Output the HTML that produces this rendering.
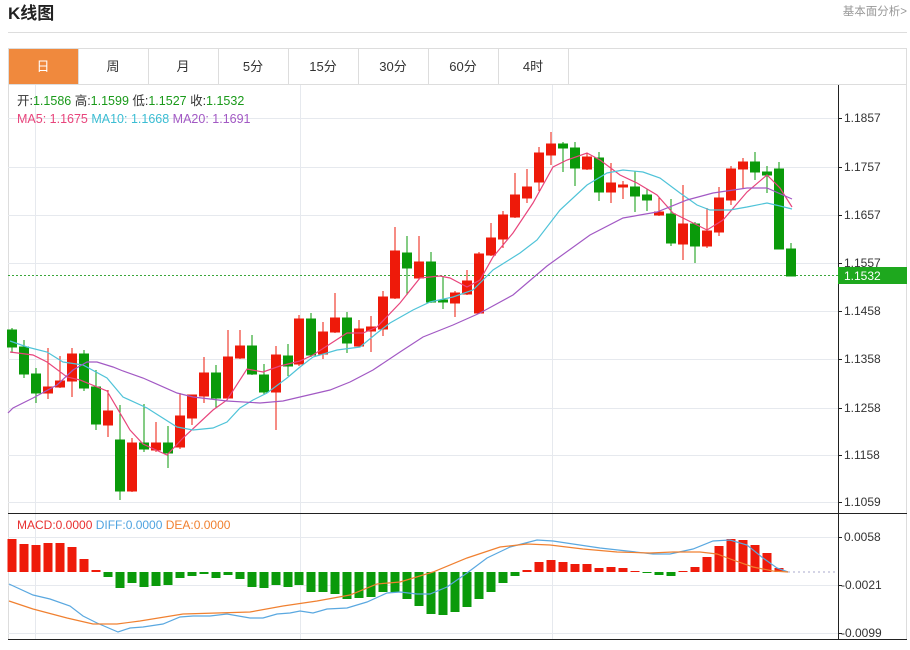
<!DOCTYPE html>
<html><head><meta charset="utf-8"><style>
body{margin:0;background:#fff;width:910px;height:645px;overflow:hidden;font-family:"Liberation Sans","Noto Sans CJK SC",sans-serif;}
</style></head><body>
<svg width="910" height="645" xmlns="http://www.w3.org/2000/svg" font-family="Liberation Sans, Noto Sans CJK SC, sans-serif">
<text x="8" y="19" font-size="17" font-weight="bold" fill="#222">K线图</text>
<text x="907" y="15" font-size="11.5" fill="#999" text-anchor="end">基本面分析&gt;</text>
<line x1="8" y1="32.5" x2="907" y2="32.5" stroke="#ddd"/>
<rect x="8.5" y="48.5" width="898" height="36" fill="#fff" stroke="#ddd"/>
<rect x="9" y="49" width="69" height="35" fill="#f0893d"/>
<g stroke="#ddd"><line x1="78.5" y1="49" x2="78.5" y2="84"/><line x1="148.5" y1="49" x2="148.5" y2="84"/><line x1="218.5" y1="49" x2="218.5" y2="84"/><line x1="288.5" y1="49" x2="288.5" y2="84"/><line x1="358.5" y1="49" x2="358.5" y2="84"/><line x1="428.5" y1="49" x2="428.5" y2="84"/><line x1="498.5" y1="49" x2="498.5" y2="84"/><line x1="568.5" y1="49" x2="568.5" y2="84"/></g>
<g font-size="13" text-anchor="middle" fill="#333"><text x="43" y="71" fill="#fff">日</text><text x="113" y="71">周</text><text x="183" y="71">月</text><text x="253" y="71">5分</text><text x="323" y="71">15分</text><text x="393" y="71">30分</text><text x="463" y="71">60分</text><text x="533" y="71">4时</text></g>
<line x1="8.5" y1="84" x2="8.5" y2="640" stroke="#ddd"/>
<line x1="906.5" y1="84" x2="906.5" y2="640" stroke="#ddd"/>
<g stroke="#e6e9ee">
<line x1="8" y1="118.5" x2="838" y2="118.5"/><line x1="8" y1="167.5" x2="838" y2="167.5"/><line x1="8" y1="215.5" x2="838" y2="215.5"/><line x1="8" y1="263.5" x2="838" y2="263.5"/><line x1="8" y1="311.5" x2="838" y2="311.5"/><line x1="8" y1="359.5" x2="838" y2="359.5"/><line x1="8" y1="408.5" x2="838" y2="408.5"/><line x1="8" y1="455.5" x2="838" y2="455.5"/><line x1="8" y1="502.5" x2="838" y2="502.5"/>
<line x1="8" y1="537.5" x2="838" y2="537.5"/><line x1="8" y1="585.5" x2="838" y2="585.5"/><line x1="8" y1="633.5" x2="838" y2="633.5"/>
<line x1="35.5" y1="85" x2="35.5" y2="640"/><line x1="300.5" y1="85" x2="300.5" y2="640"/><line x1="552.5" y1="85" x2="552.5" y2="640"/>
</g>
<line x1="838.5" y1="85" x2="838.5" y2="640" stroke="#222"/>
<line x1="8" y1="513.5" x2="907" y2="513.5" stroke="#222"/>
<line x1="8" y1="639.5" x2="907" y2="639.5" stroke="#222"/>
<g stroke="#222"><line x1="838" y1="118.5" x2="842" y2="118.5"/><line x1="838" y1="167.5" x2="842" y2="167.5"/><line x1="838" y1="215.5" x2="842" y2="215.5"/><line x1="838" y1="263.5" x2="842" y2="263.5"/><line x1="838" y1="311.5" x2="842" y2="311.5"/><line x1="838" y1="359.5" x2="842" y2="359.5"/><line x1="838" y1="408.5" x2="842" y2="408.5"/><line x1="838" y1="455.5" x2="842" y2="455.5"/><line x1="838" y1="502.5" x2="842" y2="502.5"/><line x1="838" y1="537.5" x2="842" y2="537.5"/><line x1="838" y1="585.5" x2="842" y2="585.5"/><line x1="838" y1="633.5" x2="842" y2="633.5"/></g>
<g font-size="12" fill="#333"><text x="844" y="122">1.1857</text><text x="844" y="171">1.1757</text><text x="844" y="219">1.1657</text><text x="844" y="267">1.1557</text><text x="844" y="315">1.1458</text><text x="844" y="363">1.1358</text><text x="844" y="412">1.1258</text><text x="844" y="459">1.1158</text><text x="844" y="506">1.1059</text>
<text x="844" y="541">0.0058</text><text x="841" y="589">-0.0021</text><text x="841" y="637">-0.0099</text></g>
<line x1="8" y1="275.5" x2="838" y2="275.5" stroke="#3aa63a" stroke-dasharray="2,2"/>
<rect x="838" y="267" width="69" height="17" fill="#1ea81e"/>
<text x="844" y="280" font-size="12" fill="#fff">1.1532</text>
<g font-size="12.5"><text x="17" y="105" fill="#333">开:<tspan fill="#1a9a1a">1.1586</tspan>  高:<tspan fill="#1a9a1a">1.1599</tspan>  低:<tspan fill="#1a9a1a">1.1527</tspan>  收:<tspan fill="#1a9a1a">1.1532</tspan></text>
<text x="17" y="123" fill="#e8457c">MA5: 1.1675 <tspan fill="#3bbdd3">  MA10: 1.1668</tspan><tspan fill="#a259c4">  MA20: 1.1691</tspan></text>
<text x="17" y="529" fill="#e83030" font-size="12">MACD:0.0000 <tspan fill="#4fa3e0">  DIFF:0.0000</tspan><tspan fill="#f08030">  DEA:0.0000</tspan></text></g>
<g stroke="#0a9a0a" fill="#0a9a0a">
<line x1="12" y1="328" x2="12" y2="353"/><rect x="7.5" y="330" width="9" height="17"/>
<line x1="24" y1="340" x2="24" y2="378"/><rect x="19.5" y="347" width="9" height="27"/>
<line x1="36" y1="368" x2="36" y2="403"/><rect x="31.5" y="374" width="9" height="19"/>
<line x1="84" y1="350" x2="84" y2="391"/><rect x="79.5" y="354" width="9" height="34"/>
<line x1="96" y1="370" x2="96" y2="430"/><rect x="91.5" y="387" width="9" height="37"/>
<line x1="120" y1="405" x2="120" y2="500"/><rect x="115.5" y="440" width="9" height="51"/>
<line x1="144" y1="404" x2="144" y2="452"/><rect x="139.5" y="443" width="9" height="6"/>
<line x1="168" y1="426" x2="168" y2="468"/><rect x="163.5" y="443" width="9" height="10"/>
<line x1="216" y1="365" x2="216" y2="408"/><rect x="211.5" y="373" width="9" height="25"/>
<line x1="252" y1="335" x2="252" y2="375"/><rect x="247.5" y="346" width="9" height="28"/>
<line x1="264" y1="364" x2="264" y2="394"/><rect x="259.5" y="375" width="9" height="17"/>
<line x1="288" y1="344" x2="288" y2="376"/><rect x="283.5" y="356" width="9" height="10"/>
<line x1="311" y1="313" x2="311" y2="357"/><rect x="306.5" y="319" width="9" height="36"/>
<line x1="347" y1="312" x2="347" y2="353"/><rect x="342.5" y="318" width="9" height="25"/>
<line x1="407" y1="236" x2="407" y2="295"/><rect x="402.5" y="253" width="9" height="15"/>
<line x1="431" y1="252" x2="431" y2="303"/><rect x="426.5" y="262" width="9" height="40"/>
<line x1="443" y1="277" x2="443" y2="309"/><rect x="438.5" y="300" width="9" height="2"/>
<line x1="563" y1="142" x2="563" y2="172"/><rect x="558.5" y="144" width="9" height="4"/>
<line x1="575" y1="142" x2="575" y2="186"/><rect x="570.5" y="148" width="9" height="20"/>
<line x1="599" y1="152" x2="599" y2="201"/><rect x="594.5" y="158" width="9" height="34"/>
<line x1="635" y1="171" x2="635" y2="212"/><rect x="630.5" y="187" width="9" height="9"/>
<line x1="647" y1="189" x2="647" y2="211"/><rect x="642.5" y="195" width="9" height="5"/>
<line x1="671" y1="199" x2="671" y2="246"/><rect x="666.5" y="214" width="9" height="29"/>
<line x1="695" y1="222" x2="695" y2="263"/><rect x="690.5" y="224" width="9" height="22"/>
<line x1="755" y1="152" x2="755" y2="180"/><rect x="750.5" y="162" width="9" height="10"/>
<line x1="767" y1="166" x2="767" y2="193"/><rect x="762.5" y="172" width="9" height="3"/>
<line x1="779" y1="162" x2="779" y2="249"/><rect x="774.5" y="169" width="9" height="80"/>
<line x1="791" y1="243" x2="791" y2="276"/><rect x="786.5" y="249" width="9" height="27"/>
</g>
<g stroke="#ee1a0a" fill="#ee1a0a">
<line x1="48" y1="348" x2="48" y2="399"/><rect x="43.5" y="387" width="9" height="6"/>
<line x1="60" y1="356" x2="60" y2="388"/><rect x="55.5" y="381" width="9" height="6"/>
<line x1="72" y1="348" x2="72" y2="397"/><rect x="67.5" y="354" width="9" height="27"/>
<line x1="108" y1="390" x2="108" y2="437"/><rect x="103.5" y="411" width="9" height="14"/>
<line x1="132" y1="438" x2="132" y2="492"/><rect x="127.5" y="443" width="9" height="48"/>
<line x1="156" y1="422" x2="156" y2="452"/><rect x="151.5" y="443" width="9" height="7"/>
<line x1="180" y1="393" x2="180" y2="449"/><rect x="175.5" y="416" width="9" height="31"/>
<line x1="192" y1="395" x2="192" y2="425"/><rect x="187.5" y="395" width="9" height="23"/>
<line x1="204" y1="357" x2="204" y2="403"/><rect x="199.5" y="373" width="9" height="23"/>
<line x1="228" y1="330" x2="228" y2="398"/><rect x="223.5" y="357" width="9" height="41"/>
<line x1="240" y1="330" x2="240" y2="359"/><rect x="235.5" y="346" width="9" height="12"/>
<line x1="276" y1="346" x2="276" y2="430"/><rect x="271.5" y="355" width="9" height="37"/>
<line x1="299" y1="315" x2="299" y2="366"/><rect x="294.5" y="319" width="9" height="45"/>
<line x1="323" y1="322" x2="323" y2="359"/><rect x="318.5" y="332" width="9" height="22"/>
<line x1="335" y1="293" x2="335" y2="333"/><rect x="330.5" y="318" width="9" height="14"/>
<line x1="359" y1="320" x2="359" y2="346"/><rect x="354.5" y="329" width="9" height="17"/>
<line x1="371" y1="316" x2="371" y2="352"/><rect x="366.5" y="327" width="9" height="4"/>
<line x1="383" y1="291" x2="383" y2="336"/><rect x="378.5" y="297" width="9" height="32"/>
<line x1="395" y1="227" x2="395" y2="299"/><rect x="390.5" y="251" width="9" height="47"/>
<line x1="419" y1="236" x2="419" y2="279"/><rect x="414.5" y="262" width="9" height="16"/>
<line x1="455" y1="291" x2="455" y2="317"/><rect x="450.5" y="293" width="9" height="10"/>
<line x1="467" y1="270" x2="467" y2="295"/><rect x="462.5" y="281" width="9" height="13"/>
<line x1="479" y1="252" x2="479" y2="314"/><rect x="474.5" y="254" width="9" height="59"/>
<line x1="491" y1="223" x2="491" y2="256"/><rect x="486.5" y="238" width="9" height="17"/>
<line x1="503" y1="211" x2="503" y2="248"/><rect x="498.5" y="215" width="9" height="24"/>
<line x1="515" y1="173" x2="515" y2="218"/><rect x="510.5" y="195" width="9" height="22"/>
<line x1="527" y1="169" x2="527" y2="203"/><rect x="522.5" y="187" width="9" height="11"/>
<line x1="539" y1="147" x2="539" y2="191"/><rect x="534.5" y="153" width="9" height="29"/>
<line x1="551" y1="132" x2="551" y2="165"/><rect x="546.5" y="144" width="9" height="11"/>
<line x1="587" y1="153" x2="587" y2="170"/><rect x="582.5" y="157" width="9" height="12"/>
<line x1="611" y1="163" x2="611" y2="203"/><rect x="606.5" y="183" width="9" height="9"/>
<line x1="623" y1="181" x2="623" y2="199"/><rect x="618.5" y="185" width="9" height="2"/>
<line x1="659" y1="197" x2="659" y2="216"/><rect x="654.5" y="212" width="9" height="3"/>
<line x1="683" y1="185" x2="683" y2="260"/><rect x="678.5" y="224" width="9" height="20"/>
<line x1="707" y1="208" x2="707" y2="248"/><rect x="702.5" y="231" width="9" height="15"/>
<line x1="719" y1="187" x2="719" y2="236"/><rect x="714.5" y="198" width="9" height="34"/>
<line x1="731" y1="166" x2="731" y2="205"/><rect x="726.5" y="169" width="9" height="31"/>
<line x1="743" y1="158" x2="743" y2="188"/><rect x="738.5" y="162" width="9" height="7"/>
</g>
<g fill="none" stroke-width="1.2">
<polyline stroke="#e8457c" points="10,352 33,355 47,362 67,377 80,380 107,391 130,430 143,444 167,455 183,438 213,410 227,400 247,369 263,372 280,366 300,361 313,355 347,333 363,333 377,327 400,303 420,278 440,276 450,278 467,287 480,280 493,257 513,233 533,203 553,167 567,160 587,153 600,160 620,175 637,183 657,195 673,213 707,230 723,220 747,192 767,175 780,188 792,207"/>
<polyline stroke="#4fc3d8" points="10,341 27,347 47,352 63,362 83,365 107,378 123,397 147,408 177,427 193,430 213,428 227,422 240,408 253,400 267,393 287,378 300,367 313,357 337,350 360,347 377,333 390,323 413,310 430,302 453,297 473,290 493,270 520,253 537,240 560,210 587,185 607,173 623,170 643,172 660,178 680,193 697,205 710,210 730,210 747,207 767,203 780,206 792,209"/>
<polyline stroke="#a259c4" points="8,413 13,408 33,398 57,385 73,370 87,362 97,362 113,367 123,371 143,378 177,393 193,397 227,401 260,403 283,401 300,397 330,390 350,382 373,370 400,352 423,337 453,325 480,313 513,295 547,266 590,235 623,218 657,212 687,200 713,193 747,188 767,188 792,199"/>
</g>
<line x1="788" y1="572" x2="838" y2="572" stroke="#aac" stroke-dasharray="2,3"/>
<g fill="#ee1a0a">
<rect x="7.5" y="539" width="9" height="33"/><rect x="19.5" y="544" width="9" height="28"/><rect x="31.5" y="545" width="9" height="27"/><rect x="43.5" y="543" width="9" height="29"/><rect x="55.5" y="543" width="9" height="29"/><rect x="67.5" y="547" width="9" height="25"/><rect x="79.5" y="559" width="9" height="13"/><rect x="91.5" y="570" width="9" height="2"/>
<rect x="522.5" y="570" width="9" height="2"/><rect x="534.5" y="562" width="9" height="10"/><rect x="546.5" y="560" width="9" height="12"/><rect x="558.5" y="562" width="9" height="10"/><rect x="570.5" y="564" width="9" height="8"/><rect x="582.5" y="564" width="9" height="8"/><rect x="594.5" y="568" width="9" height="4"/><rect x="606.5" y="567" width="9" height="5"/><rect x="618.5" y="568" width="9" height="4"/><rect x="630.5" y="571" width="9" height="1"/>
<rect x="678.5" y="571" width="9" height="1"/><rect x="690.5" y="567" width="9" height="5"/><rect x="702.5" y="557" width="9" height="15"/><rect x="714.5" y="546" width="9" height="26"/><rect x="726.5" y="539" width="9" height="33"/><rect x="738.5" y="540" width="9" height="32"/><rect x="750.5" y="545" width="9" height="27"/><rect x="762.5" y="553" width="9" height="19"/><rect x="774.5" y="568" width="9" height="4"/>
</g>
<g fill="#0a9a0a">
<rect x="103.5" y="572" width="9" height="5"/><rect x="115.5" y="572" width="9" height="16"/><rect x="127.5" y="572" width="9" height="11"/><rect x="139.5" y="572" width="9" height="15"/><rect x="151.5" y="572" width="9" height="14"/><rect x="163.5" y="572" width="9" height="13"/><rect x="175.5" y="572" width="9" height="6"/><rect x="187.5" y="572" width="9" height="4"/><rect x="199.5" y="572" width="9" height="2"/><rect x="211.5" y="572" width="9" height="6"/><rect x="223.5" y="572" width="9" height="3"/><rect x="235.5" y="572" width="9" height="7"/><rect x="247.5" y="572" width="9" height="15"/><rect x="259.5" y="572" width="9" height="16"/><rect x="271.5" y="572" width="9" height="13"/><rect x="283.5" y="572" width="9" height="15"/><rect x="294.5" y="572" width="9" height="13"/><rect x="306.5" y="572" width="9" height="20"/><rect x="318.5" y="572" width="9" height="20"/><rect x="330.5" y="572" width="9" height="22"/><rect x="342.5" y="572" width="9" height="27"/><rect x="354.5" y="572" width="9" height="26"/><rect x="366.5" y="572" width="9" height="25"/><rect x="378.5" y="572" width="9" height="20"/><rect x="390.5" y="572" width="9" height="20"/><rect x="402.5" y="572" width="9" height="27"/><rect x="414.5" y="572" width="9" height="34"/><rect x="426.5" y="572" width="9" height="42"/><rect x="438.5" y="572" width="9" height="43"/><rect x="450.5" y="572" width="9" height="40"/><rect x="462.5" y="572" width="9" height="35"/><rect x="474.5" y="572" width="9" height="27"/><rect x="486.5" y="572" width="9" height="20"/><rect x="498.5" y="572" width="9" height="11"/><rect x="510.5" y="572" width="9" height="4"/>
<rect x="642.5" y="572" width="9" height="1"/><rect x="654.5" y="572" width="9" height="3"/><rect x="666.5" y="572" width="9" height="4"/>
</g>
<g fill="none" stroke-width="1.2">
<polyline stroke="#5aa8e0" points="9,584 33,595 50,599 70,606 83,616 97,623 118,632 130,628 143,627 163,624 180,617 193,616 210,616 227,614 250,618 263,618 277,614 290,613 300,611 313,613 327,609 347,608 367,602 387,593 400,592 417,594 430,594 447,587 467,573 487,558 510,547 537,540 553,541 573,544 600,548 627,551 653,554 670,554 693,549 713,541 730,540 747,545 763,558 777,568 788,572"/>
<polyline stroke="#f08030" points="9,601 33,609 67,618 93,624 117,624 140,621 183,614 217,613 250,612 283,606 317,601 350,595 377,584 400,582 433,572 467,558 500,547 527,544 550,545 583,549 617,552 650,553 673,552 700,552 717,554 733,560 753,567 773,571 788,572"/>
</g>
</svg>
</body></html>
